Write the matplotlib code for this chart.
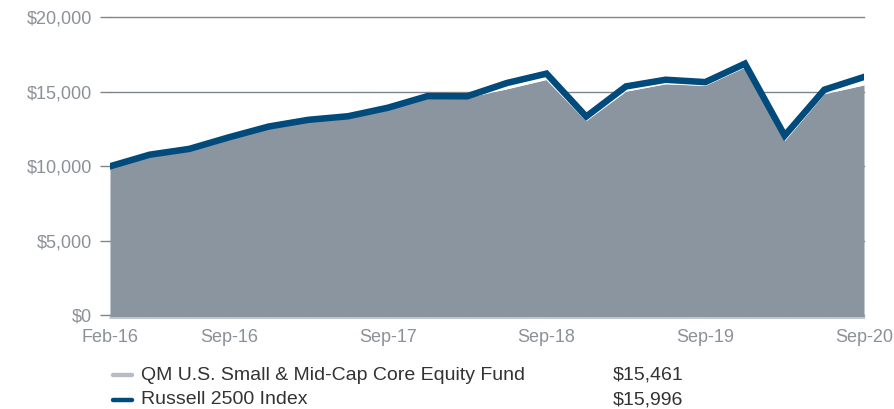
import matplotlib
matplotlib.use("Agg")
import matplotlib.pyplot as plt
from matplotlib.lines import Line2D

plt.rcParams['font.family'] = ['Liberation Sans', 'DejaVu Sans']

# quarterly growth of a $10,000 investment
dates = ['Feb-16', 'Mar-16', 'Jun-16', 'Sep-16', 'Dec-16', 'Mar-17', 'Jun-17',
         'Sep-17', 'Dec-17', 'Mar-18', 'Jun-18', 'Sep-18', 'Dec-18', 'Mar-19',
         'Jun-19', 'Sep-19', 'Dec-19', 'Mar-20', 'Jun-20', 'Sep-20']
fund = [10000, 10680, 11080, 11840, 12570, 13030, 13270, 13850, 14620, 14620,
        15200, 15830, 13070, 15040, 15540, 15430, 16660, 11730, 14870, 15461]
index = [10000, 10780, 11170, 11950, 12670, 13120, 13360, 13930, 14710, 14700,
         15590, 16220, 13340, 15360, 15810, 15650, 16890, 12060, 15140, 15996]
labeled = ['Feb-16', 'Sep-16', 'Sep-17', 'Sep-18', 'Sep-19', 'Sep-20']
fund_name = 'QM U.S. Small & Mid-Cap Core Equity Fund'
index_name = 'Russell 2500 Index'

area_col = '#8b95a0'
line_col = '#004a7c'
txt_gray = '#8b9099'

fig = plt.figure(figsize=(8.95, 4.09), dpi=100)
ax = fig.add_axes([110 / 895, 1 - 318.3 / 409, 754 / 895, 301 / 409])

x = list(range(len(dates)))
ymin = -200
ax.set_xlim(0, len(dates) - 1)
ax.set_ylim(ymin, 20000)

ax.fill_between(x, fund, ymin, color=area_col, lw=0, zorder=2)
ax.plot(x, fund, color='white', lw=0.8, zorder=3)
ax.plot(x, index, color=line_col, lw=4.7, solid_joinstyle='miter', zorder=4)

# grid lines (only visible above the area)
yt = [0, 5000, 10000, 15000, 20000]
for v in yt:
    ax.axhline(v, color='#80858c', lw=1.0, zorder=1, clip_on=False)
ax.set_yticks(yt)
ax.set_yticklabels([f'${v:,}' for v in yt])
ax.tick_params(axis='y', length=7, width=1, color='#80858c', pad=6,
               labelsize=13, labelcolor=txt_gray)

ax.set_xticks(x)
ax.set_xticklabels([d if d in labeled else '' for d in dates])
ax.tick_params(axis='x', direction='in', length=3, width=0.8, color='#a6adb5',
               pad=8, labelsize=13, labelcolor=txt_gray)

for s in ['top', 'right', 'left']:
    ax.spines[s].set_visible(False)
ax.spines['bottom'].set_color('#c9ced3')
ax.spines['bottom'].set_linewidth(1.2)

# legend at the bottom
rows = [(fund_name, fund[-1], '#b6bcc4', 375), (index_name, index[-1], line_col, 400)]
for name, val, col, ypx in rows:
    yf = 1 - ypx / 409
    fig.add_artist(Line2D([113 / 895, 132 / 895], [yf, yf], color=col, lw=3.2,
                          solid_capstyle='round', transform=fig.transFigure))
    fig.text(141 / 895, yf, name, fontsize=14, color='#333333', va='center')
    fig.text(613 / 895, yf, f'${val:,}', fontsize=14, color='#333333', va='center')

fig.savefig('out.png', dpi=100)
